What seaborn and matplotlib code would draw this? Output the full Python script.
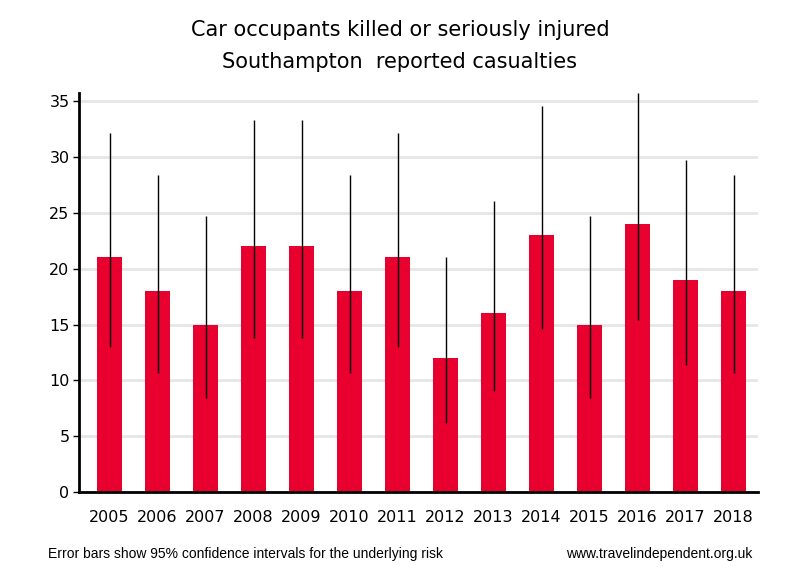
import numpy as np
import pandas as pd
import matplotlib
matplotlib.use("Agg")
import matplotlib.pyplot as plt
import seaborn as sns

years = ["2005", "2006", "2007", "2008", "2009", "2010", "2011",
         "2012", "2013", "2014", "2015", "2016", "2017", "2018"]
casualties = [21, 18, 15, 22, 22, 18, 21, 12, 16, 23, 15, 24, 19, 18]
ci_low = [13.0, 10.7, 8.4, 13.8, 13.8, 10.7, 13.0, 6.2, 9.1, 14.6, 8.4, 15.4, 11.4, 10.7]
ci_high = [32.1, 28.4, 24.7, 33.3, 33.3, 28.4, 32.1, 21.0, 26.0, 34.5, 24.7, 35.7, 29.7, 28.4]

df = pd.DataFrame({"year": years, "n": casualties})

sns.set_style("white")
plt.rcParams["font.family"] = ["DejaVu Sans"]
plt.rcParams["text.color"] = "black"
plt.rcParams["xtick.color"] = "black"
plt.rcParams["ytick.color"] = "black"

fig = plt.figure(figsize=(8, 5.8), dpi=100)
ax = fig.add_axes([0.099, 0.151, 0.8485, 0.689])

sns.barplot(data=df, x="year", y="n", color="#E8002F", saturation=1,
            width=0.51, errorbar=None, linewidth=0, ax=ax, zorder=2)

# 95% CI whiskers, no caps
vals = np.array(casualties)
yerr = np.vstack([vals - np.array(ci_low), np.array(ci_high) - vals])
ax.errorbar(np.arange(len(years)), vals, yerr=yerr, fmt="none",
            ecolor="black", elinewidth=1, capsize=0, zorder=3)

ax.set_xlim(-0.633, 13.51)
ax.set_ylim(0, 35.7)
ax.set_yticks(range(0, 36, 5))
ax.yaxis.grid(True, color="#E6E6E6", linewidth=2, zorder=0)
ax.set_axisbelow(True)

for s in ["top", "right"]:
    ax.spines[s].set_visible(False)
for s in ["left", "bottom"]:
    ax.spines[s].set_linewidth(2)
    ax.spines[s].set_color("black")

ax.tick_params(axis="y", left=True, length=4, width=1, labelsize=11.5, pad=3)
ax.tick_params(axis="x", bottom=False, labelsize=11.5, pad=9)
ax.set_xlabel("")
ax.set_ylabel("")

fig.text(0.5, 0.948, "Car occupants killed or seriously injured",
         ha="center", va="center", fontsize=15)
fig.text(0.5, 0.893, "Southampton  reported casualties",
         ha="center", va="center", fontsize=15)

foot = ["Liberation Sans Narrow", "Liberation Sans", "DejaVu Sans"]
fig.text(0.06, 0.045, "Error bars show 95% confidence intervals for the underlying risk",
         ha="left", va="center", fontsize=10, family=foot)
fig.text(0.94, 0.045, "www.travelindependent.org.uk",
         ha="right", va="center", fontsize=10, family=foot)

fig.savefig("out.png", dpi=100)
